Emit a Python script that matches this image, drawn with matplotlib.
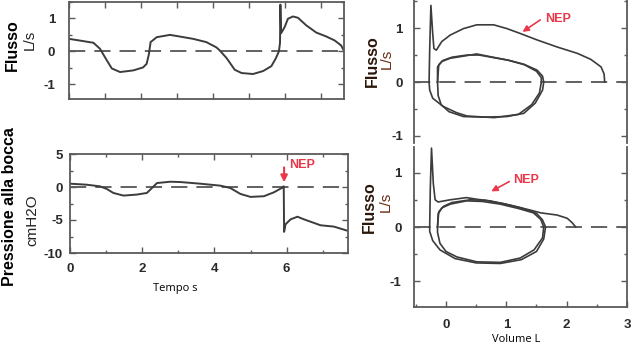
import matplotlib
matplotlib.use("Agg")
import matplotlib.pyplot as plt
from matplotlib.ticker import MultipleLocator

# flow vs time (top left), L/s
t_flow = [0.0, 0.4, 0.68, 0.86, 1.05, 1.19, 1.42, 1.79, 2.06, 2.16, 2.22, 2.27, 2.44, 2.81, 3.08,
          3.45, 3.82, 4.1, 4.19, 4.38, 4.61, 4.8, 5.12, 5.4, 5.63, 5.75, 5.84, 5.87, 5.88,
          5.9, 6.0, 6.09, 6.23, 6.37, 6.6, 6.88, 7.16, 7.39, 7.57, 7.65]
flow = [0.38, 0.31, 0.26, 0.08, -0.27, -0.52, -0.63, -0.58, -0.49, -0.38, -0.1, 0.28, 0.43, 0.5, 0.45,
        0.38, 0.28, 0.12, 0.03, -0.2, -0.56, -0.66, -0.69, -0.6, -0.45, -0.22, 0.0, 0.26, 1.42,
        0.55, 0.74, 0.99, 1.06, 1.02, 0.79, 0.57, 0.45, 0.33, 0.18, 0.01]

# mouth pressure vs time (bottom left), cmH2O
t_pres = [0.0, 0.46, 0.83, 1.02, 1.2, 1.48, 1.85, 2.13, 2.27, 2.41, 2.78, 3.06, 3.61, 4.17,
          4.44, 4.72, 5.0, 5.37, 5.65, 5.88, 5.92, 5.93, 5.97, 6.11, 6.3, 6.48, 6.94, 7.31, 7.7]
pres = [0.5, 0.35, 0.1, -0.3, -0.9, -1.3, -1.15, -0.9, -0.15, 0.6, 0.8, 0.75, 0.5, 0.2,
        -0.15, -1.05, -1.5, -1.4, -0.8, -0.1, 0.1, -6.8, -5.65, -4.9, -4.5, -4.9, -5.8, -6.0, -6.65]

# flow-volume loops, top right
a_loop1_v = [-0.14, -0.14, -0.07, 0.07, 0.29, 0.51, 0.73, 1.01, 1.29, 1.51, 1.6, 1.62, 1.6,
             1.48, 1.29, 1.01, 0.62, 0.29, 0.05, -0.08, -0.13, -0.14]
a_loop1_f = [0.0, 0.28, 0.38, 0.44, 0.48, 0.52, 0.47, 0.41, 0.33, 0.22, 0.11, 0.0, -0.15,
             -0.39, -0.58, -0.64, -0.65, -0.64, -0.55, -0.42, -0.25, 0.0]
a_loop2_v = [-0.14, -0.12, -0.05, 0.1, 0.35, 0.55, 0.8, 1.05, 1.3, 1.5, 1.58, 1.58, 1.55,
             1.42, 1.2, 0.8, 0.35, 0.18, -0.05, -0.22, -0.27, -0.28]
a_loop2_f = [0.0, 0.32, 0.4, 0.46, 0.5, 0.5, 0.45, 0.4, 0.32, 0.2, 0.08, 0.0, -0.2,
             -0.42, -0.6, -0.66, -0.63, -0.57, -0.45, -0.3, -0.15, 0.0]
a_nep_v = [-0.28, -0.27, -0.25, -0.22, -0.2, -0.16, -0.07, 0.07, 0.29, 0.51, 0.79, 1.01, 1.23,
           1.51, 1.84, 2.18, 2.4, 2.57, 2.62, 2.63]
a_nep_f = [0.0, 0.6, 1.42, 0.9, 0.62, 0.59, 0.75, 0.87, 0.99, 1.06, 1.06, 0.99, 0.9,
           0.78, 0.65, 0.53, 0.42, 0.28, 0.15, 0.0]

# flow-volume loops, bottom right
b_loop1_v = [-0.14, -0.13, -0.07, 0.07, 0.34, 0.6, 0.9, 1.2, 1.45, 1.57, 1.62, 1.6, 1.46,
             1.23, 0.9, 0.51, 0.18, 0.0, -0.1, -0.14, -0.14]
b_loop1_f = [0.0, 0.24, 0.35, 0.42, 0.48, 0.47, 0.42, 0.34, 0.26, 0.14, 0.0, -0.2, -0.42,
             -0.57, -0.65, -0.64, -0.55, -0.45, -0.3, -0.1, 0.0]
b_loop2_v = [-0.14, -0.12, -0.04, 0.1, 0.4, 0.65, 0.95, 1.25, 1.5, 1.6, 1.65, 1.62, 1.5,
             1.25, 0.9, 0.5, 0.15, -0.1, -0.22, -0.27, -0.27]
b_loop2_f = [0.0, 0.28, 0.38, 0.45, 0.5, 0.49, 0.43, 0.35, 0.25, 0.13, 0.0, -0.22, -0.45,
             -0.6, -0.67, -0.66, -0.58, -0.42, -0.25, -0.08, 0.0]
b_nep_v = [-0.27, -0.26, -0.24, -0.21, -0.18, -0.13, 0.07, 0.34, 0.51, 0.73, 1.07, 1.4, 1.57,
           1.84, 2.01, 2.09, 2.15]
b_nep_f = [0.0, 0.7, 1.45, 0.8, 0.5, 0.46, 0.5, 0.54, 0.51, 0.48, 0.4, 0.31, 0.26,
           0.22, 0.16, 0.08, 0.0]

W, H = 634, 346
LINE = '#3c3c3c'
SPINE = '#5a5a5a'
RED = '#e8384a'
plt.rcParams['font.family'] = ['Liberation Sans', 'DejaVu Sans']

fig = plt.figure(figsize=(W / 100, H / 100), dpi=100)


def rect(x0, y0, x1, y1):
    return [x0 / W, 1 - y1 / H, (x1 - x0) / W, (y1 - y0) / H]


def style(ax, xpad, ypad, top=True, bottom=True):
    for s in ax.spines.values():
        s.set_color(SPINE)
        s.set_linewidth(1.3)
    ax.spines['top'].set_visible(top)
    ax.spines['bottom'].set_visible(bottom)
    ax.tick_params(which='both', direction='in', colors=SPINE, width=1,
                   left=True, right=True, top=top, bottom=bottom)
    ax.tick_params(which='major', length=4)
    ax.tick_params(which='minor', length=2.5)
    ax.tick_params(axis='x', pad=xpad, labelcolor='#2a2a2a', labelsize=9.5)
    ax.tick_params(axis='y', pad=ypad, labelcolor='#2a2a2a', labelsize=9.5)
    for lab in ax.get_xticklabels() + ax.get_yticklabels():
        lab.set_fontweight('bold')


def zero_line(ax):
    ax.axhline(0, color='#555555', lw=1.3, linestyle=(0, (9, 5)), zorder=1)


# top left: flow
ax1 = fig.add_axes(rect(69, 2, 344, 99))
zero_line(ax1)
ax1.plot(t_flow, flow, color=LINE, lw=1.4)
ax1.set_xlim(0, 7.65)
ax1.set_ylim(-1.45, 1.5)
ax1.set_yticks([-1, 0, 1])
ax1.set_yticklabels(['-1', '0', '1'])
ax1.xaxis.set_major_locator(MultipleLocator(1))
ax1.yaxis.set_minor_locator(MultipleLocator(0.5))
ax1.set_xticklabels([])
style(ax1, 6, 10)

# bottom left: pressure
ax2 = fig.add_axes(rect(70, 154, 348, 253))
zero_line(ax2)
ax2.plot(t_pres, pres, color=LINE, lw=1.4)
ax2.set_xlim(0, 7.7)
ax2.set_ylim(-10, 5)
ax2.set_yticks([-10, -5, 0, 5])
ax2.set_yticklabels(['-10', '-5', '0', '5'])
ax2.set_xticks([0, 2, 4, 6])
ax2.xaxis.set_minor_locator(MultipleLocator(1))
ax2.yaxis.set_minor_locator(MultipleLocator(2.5))
style(ax2, 7, 5)
ax2.annotate('', xy=(5.93, 0.3), xytext=(5.93, 3.4),
             arrowprops=dict(arrowstyle='-|>', color=RED, lw=1.5, mutation_scale=10))
ax2.text(6.06, 3.3, 'NEP', color=RED, fontsize=9, fontweight='bold', va='center', ha='left')

# top right: flow-volume
ax3 = fig.add_axes(rect(414, 0, 627, 143))
zero_line(ax3)
ax3.plot(a_loop1_v, a_loop1_f, color=LINE, lw=1.2)
ax3.plot(a_loop2_v, a_loop2_f, color=LINE, lw=1.2)
ax3.plot(a_nep_v, a_nep_f, color=LINE, lw=1.2)
ax3.set_xlim(-0.53, 3.0)
ax3.set_ylim(-1.13, 1.52)
ax3.set_yticks([-1, 0, 1])
ax3.set_yticklabels(['-1', '0', '1'])
ax3.yaxis.set_minor_locator(MultipleLocator(0.5))
ax3.set_xticks([])
style(ax3, 8, 8, top=False, bottom=False)
ax3.annotate('', xy=(1.23, 0.9), xytext=(1.6, 1.18),
             arrowprops=dict(arrowstyle='-|>', color=RED, lw=1.2, mutation_scale=9))
ax3.text(1.65, 1.17, 'NEP', color=RED, fontsize=9, fontweight='bold', va='center', ha='left')

# bottom right: flow-volume
ax4 = fig.add_axes(rect(414, 147, 627, 307))
zero_line(ax4)
ax4.plot(b_loop1_v, b_loop1_f, color=LINE, lw=1.2)
ax4.plot(b_loop2_v, b_loop2_f, color=LINE, lw=1.2)
ax4.plot(b_nep_v, b_nep_f, color=LINE, lw=1.2)
ax4.set_xlim(-0.53, 3.0)
ax4.set_ylim(-1.47, 1.47)
ax4.set_yticks([-1, 0, 1])
ax4.set_yticklabels(['-1', '0', '1'])
ax4.set_xticks([0, 1, 2, 3])
ax4.xaxis.set_minor_locator(MultipleLocator(0.5))
ax4.yaxis.set_minor_locator(MultipleLocator(0.5))
style(ax4, 9, 9, top=False)
ax4.annotate('', xy=(0.71, 0.63), xytext=(1.09, 0.86),
             arrowprops=dict(arrowstyle='-|>', color=RED, lw=1.2, mutation_scale=9))
ax4.text(1.12, 0.86, 'NEP', color=RED, fontsize=9, fontweight='bold', va='center', ha='left')

# axis titles placed like the original figure
def ftext(x, y, s, **kw):
    fig.text(x / W, 1 - y / H, s, ha='center', va='center', **kw)

ftext(12, 45, 'Flusso', rotation=90, fontsize=11.5, fontweight='bold', color='black')
ftext(30, 40, 'L/s', rotation=90, fontsize=11, color='#222222')
ftext(10, 207, 'Pressione alla bocca', rotation=90, fontsize=11.5, fontweight='bold', color='black')
ftext(32, 220, 'cmH2O', rotation=90, fontsize=11, color='#222222')
ftext(372, 61, 'Flusso', rotation=90, fontsize=11.5, fontweight='bold', color='#2a1608')
ftext(387, 59, 'L/s', rotation=90, fontsize=11, color='#6a2a10')
ftext(369, 207, 'Flusso', rotation=90, fontsize=11.5, fontweight='bold', color='#2a1608')
ftext(386, 202, 'L/s', rotation=90, fontsize=11, color='#6a2a10')
ftext(175, 289, 'Tempo s', fontsize=8, color='black', family=['Open Sans', 'DejaVu Sans'])
ftext(516, 340, 'Volume L', fontsize=8, color='black', family=['Open Sans', 'DejaVu Sans'])

fig.savefig('out.png', dpi=100)
